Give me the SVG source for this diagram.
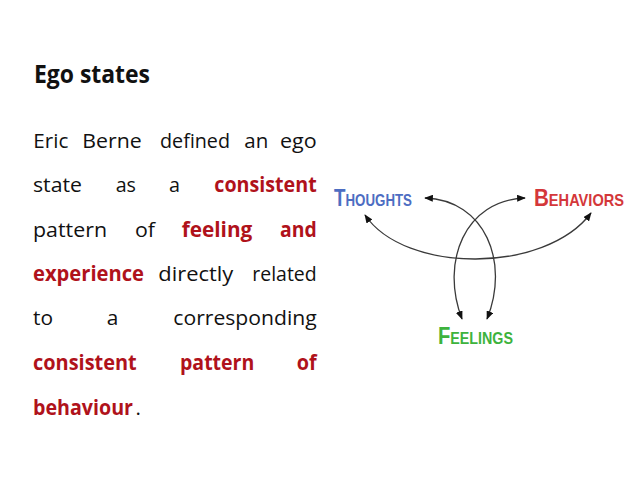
<svg xmlns="http://www.w3.org/2000/svg" width="638" height="479" viewBox="0 0 638 479">
<defs>
<style>
.t{font-family:"Open Sans","Liberation Sans",sans-serif;font-size:20.5px;fill:#111;}
.b{font-weight:bold;fill:#B0121B;}
.h{font-family:"Liberation Sans",Arial,sans-serif;font-weight:bold;font-variant:small-caps;font-size:24px;}
.c{fill:none;stroke:#3a3a3a;stroke-width:1.3;}
</style>
<marker id="ah" viewBox="0 0 10 8" refX="9" refY="4" markerWidth="9" markerHeight="7" markerUnits="userSpaceOnUse" orient="auto-start-reverse">
<path d="M0,0 L10,4 L0,8 z" fill="#111"/>
</marker>
</defs>
<rect width="638" height="479" fill="#fff"/>
<g id="title">
<text x="34" y="83" class="t" style="font-weight:bold;font-size:25px" textLength="116" lengthAdjust="spacingAndGlyphs">Ego states</text>
</g>
<g id="body">
<text x="33.3" y="147.5" class="t" textLength="35" lengthAdjust="spacingAndGlyphs">Eric</text>
<text x="82.3" y="147.5" class="t" textLength="59.4" lengthAdjust="spacingAndGlyphs">Berne</text>
<text x="160" y="147.5" class="t" textLength="70" lengthAdjust="spacingAndGlyphs">defined</text>
<text x="244.3" y="147.5" class="t" textLength="24" lengthAdjust="spacingAndGlyphs">an</text>
<text x="280" y="147.5" class="t" textLength="36.7" lengthAdjust="spacingAndGlyphs">ego</text>

<text x="33" y="192" class="t" textLength="49" lengthAdjust="spacingAndGlyphs">state</text>
<text x="115.7" y="192" class="t" textLength="20.3" lengthAdjust="spacingAndGlyphs">as</text>
<text x="169" y="192" class="t" textLength="11" lengthAdjust="spacingAndGlyphs">a</text>
<text x="214.3" y="192" class="t b" textLength="102.4" lengthAdjust="spacingAndGlyphs">consistent</text>

<text x="33" y="236.5" class="t" textLength="74" lengthAdjust="spacingAndGlyphs">pattern</text>
<text x="135" y="236.5" class="t" textLength="20" lengthAdjust="spacingAndGlyphs">of</text>
<text x="181.7" y="236.5" class="t b" textLength="70.6" lengthAdjust="spacingAndGlyphs">feeling</text>
<text x="280" y="236.5" class="t b" textLength="36.7" lengthAdjust="spacingAndGlyphs">and</text>

<text x="33" y="280.5" class="t b" textLength="111" lengthAdjust="spacingAndGlyphs">experience</text>
<text x="158.3" y="280.5" class="t" textLength="75" lengthAdjust="spacingAndGlyphs">directly</text>
<text x="252.3" y="280.5" class="t" textLength="64.4" lengthAdjust="spacingAndGlyphs">related</text>

<text x="33" y="325" class="t" textLength="20" lengthAdjust="spacingAndGlyphs">to</text>
<text x="106.7" y="325" class="t" textLength="11.6" lengthAdjust="spacingAndGlyphs">a</text>
<text x="173.3" y="325" class="t" textLength="143.4" lengthAdjust="spacingAndGlyphs">corresponding</text>

<text x="33" y="370" class="t b" textLength="103.7" lengthAdjust="spacingAndGlyphs">consistent</text>
<text x="180" y="370" class="t b" textLength="74.3" lengthAdjust="spacingAndGlyphs">pattern</text>
<text x="296.7" y="370" class="t b" textLength="20" lengthAdjust="spacingAndGlyphs">of</text>

<text x="33" y="415" class="t b" textLength="100" lengthAdjust="spacingAndGlyphs">behaviour</text>
<text x="135.5" y="415" class="t">.</text>
</g>
<g id="connectors">
<path class="c" d="M365,215 C405,274 545,274 591,213" marker-start="url(#ah)" marker-end="url(#ah)"/>
<path class="c" d="M425,198 C485,200 510,262 487,319" marker-start="url(#ah)" marker-end="url(#ah)"/>
<path class="c" d="M525,198 C465,200 440,262 462,319" marker-start="url(#ah)" marker-end="url(#ah)"/>
</g>
<g id="thoughts">
<text x="334" y="206" class="h" fill="#4D6DC2" textLength="78" lengthAdjust="spacingAndGlyphs">Thoughts</text>
</g>
<g id="behaviors">
<text x="534" y="206" class="h" fill="#D4373A" textLength="90" lengthAdjust="spacingAndGlyphs">Behaviors</text>
</g>
<g id="feelings">
<text x="438" y="344" class="h" fill="#3DB33D" textLength="75" lengthAdjust="spacingAndGlyphs">Feelings</text>
</g>
</svg>
